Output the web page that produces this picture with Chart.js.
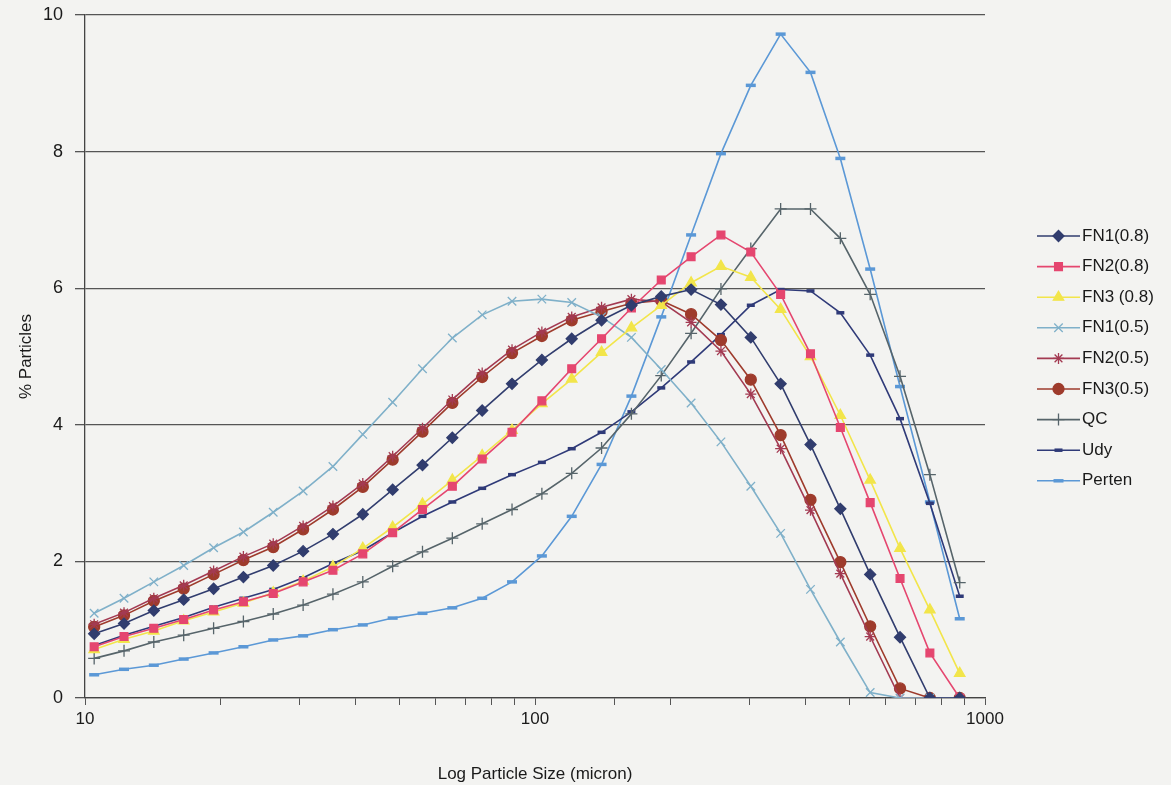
<!DOCTYPE html>
<html>
<head>
<meta charset="utf-8">
<script src="https://cdn.jsdelivr.net/npm/chart.js@4"></script>
<style>
  html, body { margin: 0; padding: 0; background: #f3f3f1; }
  #wrap { width: 1171px; height: 785px; }
</style>
</head>
<body>
<div id="wrap"><canvas id="c" width="1171" height="785"></canvas></div>
<script>
// Malvern size classes (micron), log spaced
const sizes = [10.48, 12.21, 14.22, 16.57, 19.31, 22.49, 26.20, 30.53, 35.56, 41.43,
  48.27, 56.23, 65.51, 76.32, 88.91, 103.58, 120.67, 140.58, 163.77, 190.80,
  222.28, 258.95, 301.68, 351.46, 409.45, 477.01, 555.71, 647.41, 754.23, 878.67];

const fn1_08 = [0.94, 1.09, 1.28, 1.44, 1.60, 1.77, 1.94, 2.15, 2.40, 2.69,
  3.05, 3.41, 3.81, 4.21, 4.60, 4.95, 5.26, 5.53, 5.75, 5.88,
  5.98, 5.76, 5.28, 4.60, 3.71, 2.77, 1.81, 0.89, 0, 0];
const fn2_08 = [0.75, 0.90, 1.02, 1.15, 1.29, 1.41, 1.53, 1.70, 1.87, 2.11,
  2.42, 2.76, 3.10, 3.50, 3.89, 4.35, 4.82, 5.26, 5.71, 6.12,
  6.46, 6.78, 6.53, 5.91, 5.04, 3.96, 2.86, 1.75, 0.66, 0];
const fn3_08 = [0.71, 0.86, 0.98, 1.13, 1.26, 1.39, 1.54, 1.71, 1.92, 2.19,
  2.50, 2.84, 3.19, 3.55, 3.92, 4.31, 4.67, 5.06, 5.42, 5.75,
  6.08, 6.32, 6.16, 5.69, 5.00, 4.14, 3.19, 2.19, 1.29, 0.36];
const fn1_05 = [1.24, 1.46, 1.70, 1.94, 2.20, 2.43, 2.72, 3.03, 3.39, 3.86,
  4.33, 4.82, 5.27, 5.61, 5.81, 5.84, 5.79, 5.58, 5.28, 4.81,
  4.32, 3.75, 3.10, 2.41, 1.59, 0.82, 0.08, 0, 0, 0];
const fn2_05 = [1.08, 1.25, 1.46, 1.65, 1.86, 2.07, 2.26, 2.52, 2.81, 3.14,
  3.54, 3.95, 4.37, 4.76, 5.10, 5.36, 5.58, 5.72, 5.84, 5.80,
  5.50, 5.08, 4.45, 3.65, 2.75, 1.82, 0.90, 0, 0, 0];
const fn3_05 = [1.04, 1.21, 1.42, 1.60, 1.81, 2.02, 2.21, 2.47, 2.76, 3.09,
  3.49, 3.90, 4.32, 4.70, 5.05, 5.30, 5.53, 5.66, 5.78, 5.82,
  5.62, 5.24, 4.66, 3.85, 2.90, 1.99, 1.05, 0.14, 0, 0];
const qc = [0.58, 0.69, 0.82, 0.92, 1.02, 1.12, 1.23, 1.36, 1.52, 1.70,
  1.93, 2.14, 2.34, 2.55, 2.76, 2.99, 3.29, 3.66, 4.16, 4.72,
  5.34, 5.99, 6.58, 7.16, 7.16, 6.73, 5.91, 4.71, 3.27, 1.69];
const udy = [0.77, 0.92, 1.05, 1.18, 1.33, 1.46, 1.59, 1.76, 1.97, 2.16,
  2.42, 2.66, 2.87, 3.07, 3.27, 3.45, 3.65, 3.89, 4.19, 4.54,
  4.92, 5.32, 5.75, 5.98, 5.96, 5.64, 5.02, 4.09, 2.85, 1.49];
const perten = [0.34, 0.42, 0.48, 0.57, 0.66, 0.75, 0.85, 0.91, 1.00, 1.07,
  1.17, 1.24, 1.32, 1.46, 1.70, 2.08, 2.66, 3.42, 4.42, 5.58,
  6.78, 7.97, 8.97, 9.72, 9.16, 7.90, 6.28, 4.56, 2.87, 1.16];

const xTicks = [10, 100, 1000];

const FONT = 'Liberation Sans, Arial, sans-serif';

function pts(vals) { return sizes.map((s, i) => ({ x: s, y: vals[i] })); }

function series(label, vals, color, style, opts = {}) {
  return Object.assign({
    label, data: pts(vals),
    borderColor: color, backgroundColor: color,
    pointBackgroundColor: color, pointBorderColor: color,
    pointStyle: style, pointRadius: 5, pointBorderWidth: 1.3,
    borderWidth: 1.6, tension: 0
  }, opts);
}

const datasets = [
  series('FN1(0.8)', fn1_08, '#313d6e', 'rectRot', { pointRadius: 5.5 }),
  series('FN2(0.8)', fn2_08, '#e5466f', 'rect', { pointRadius: 5.5 }),
  series('FN3 (0.8)', fn3_08, '#f2e54a', 'triangle', { pointRadius: 6 }),
  series('FN1(0.5)', fn1_05, '#7fb0c9', 'crossRot', { pointRadius: 6, pointBorderWidth: 1.3 }),
  series('FN2(0.5)', fn2_05, '#a33a52', 'star', { pointRadius: 5.5, pointBorderWidth: 1.3 }),
  series('FN3(0.5)', fn3_05, '#9e3b2c', 'circle', { pointRadius: 5.5 }),
  series('QC', qc, '#56646a', 'cross', { pointRadius: 6, pointBorderWidth: 1.3 }),
  series('Udy', udy, '#2f3a78', 'line', { pointRadius: 4, pointBorderWidth: 3.5 }),
  series('Perten', perten, '#5b98d6', 'line', { pointRadius: 5, pointBorderWidth: 3.5 })
];

// legend with line + marker, drawn on canvas at the right
const lineLegend = {
  id: 'lineLegend',
  afterDraw(chart) {
    const ctx = chart.ctx;
    const x0 = 1037, x1 = 1080, y0 = 236, step = 30.6;
    ctx.save();
    ctx.font = '17px ' + FONT;
    ctx.textBaseline = 'middle';
    chart.data.datasets.forEach((ds, i) => {
      const y = y0 + i * step;
      ctx.strokeStyle = ds.borderColor;
      ctx.lineWidth = ds.borderWidth;
      ctx.beginPath(); ctx.moveTo(x0, y); ctx.lineTo(x1, y); ctx.stroke();
      ctx.fillStyle = ds.pointBackgroundColor;
      ctx.strokeStyle = ds.pointBorderColor;
      ctx.lineWidth = ds.pointBorderWidth;
      Chart.helpers.drawPoint(ctx, { pointStyle: ds.pointStyle, radius: ds.pointRadius, borderWidth: ds.pointBorderWidth, rotation: 0 }, (x0 + x1) / 2, y);
      ctx.fillStyle = '#1a1a1a';
      ctx.fillText(ds.label, x1 + 2, y);
    });
    ctx.restore();
  }
};

new Chart(document.getElementById('c'), {
  type: 'line',
  data: { datasets },
  options: {
    responsive: false,
    animation: false,
    layout: { padding: { top: 15, right: 186, left: 12, bottom: 0 } },
    plugins: { legend: { display: false }, tooltip: { enabled: false } },
    scales: {
      x: {
        type: 'logarithmic', min: 10, max: 1000,
        afterFit: (s) => { s.height = 87; },
        border: { color: '#444', width: 1.3 },
        grid: { drawOnChartArea: false, drawTicks: true, tickLength: 7, color: '#555' },
        ticks: {
          color: '#1a1a1a', font: { family: FONT, size: 17 }, maxRotation: 0, autoSkip: false, padding: 4,
          callback: (v) => xTicks.includes(v) ? String(v) : ''
        },
        title: { display: true, text: 'Log Particle Size (micron)', color: '#1a1a1a', font: { family: FONT, size: 17 }, padding: { top: 18, bottom: 0 } }
      },
      y: {
        min: 0, max: 10,
        afterFit: (s) => { s.width = 73; s.paddingTop = 0; s.paddingBottom = 0; },
        border: { color: '#444', width: 1.3 },
        grid: { color: '#555', lineWidth: 1.3, tickLength: 10 },
        ticks: { stepSize: 2, color: '#1a1a1a', font: { family: FONT, size: 18 }, padding: 12 },
        title: { display: true, text: '% Particles', color: '#1a1a1a', font: { family: FONT, size: 17 }, padding: { bottom: 8 } }
      }
    }
  },
  plugins: [lineLegend]
});
</script>
</body>
</html>
